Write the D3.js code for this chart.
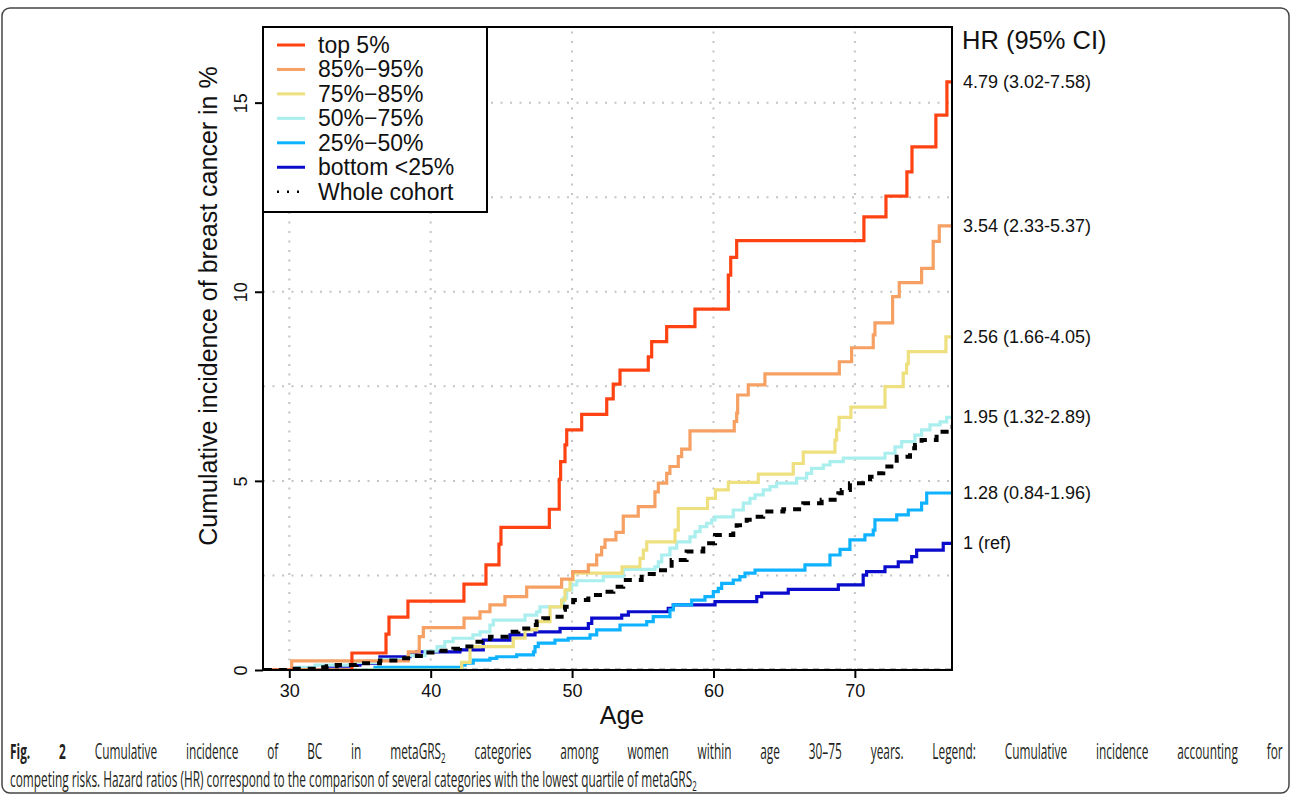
<!DOCTYPE html>
<html>
<head>
<meta charset="utf-8">
<script src="https://d3js.org/d3.v7.min.js"></script>
<style>
  body { margin: 0; background: #fff; }
  svg text { font-family: "Liberation Sans", Arial, Helvetica, sans-serif; fill: #111; }
</style>
</head>
<body>
<svg id="chart" width="1292" height="795"></svg>
<script>

// categories + HR (95% CI) as printed right of the plot
const groups = ["top 5%", "85%\u221295%", "75%\u221285%", "50%\u221275%", "25%\u221250%", "bottom <25%"];
const groupColors = ["#ff4212", "#f6a063", "#eee07e", "#aaeeee", "#0fb2ff", "#0b0bcc"];
const hrLabels = ["4.79 (3.02-7.58)", "3.54 (2.33-5.37)", "2.56 (1.66-4.05)", "1.95 (1.32-2.89)", "1.28 (0.84-1.96)", "1 (ref)"];

// cumulative incidence (%) by age
const top5Age = [28.2, 34.43, 36.84, 37.05, 38.39, 42.35, 43.91, 44.83, 44.97, 48.39, 49.09, 49.19, 49.5, 49.62, 50.68, 52.45, 52.91, 53.39, 55.39, 55.63, 56.69, 58.69, 61.05, 61.22, 61.64, 70.64, 72.2, 73.68, 74.04, 75.73, 76.51, 76.8];
const top5Inc = [0, 0.45, 0.95, 1.40, 1.82, 2.27, 2.78, 3.33, 3.77, 4.25, 5.04, 5.51, 5.95, 6.35, 6.76, 7.17, 7.56, 7.93, 8.28, 8.68, 9.08, 9.54, 10.44, 10.91, 11.35, 11.98, 12.53, 13.17, 13.83, 14.67, 15.55, 15.55];

const p85Age = [28.2, 30.17, 38.42, 39.19, 39.48, 42.36, 43.49, 44.19, 45.25, 46.79, 49.26, 50.04, 51.15, 51.74, 52.09, 52.33, 53.1, 53.62, 54.68, 55.86, 56.1, 56.69, 56.92, 57.51, 57.75, 58.34, 61.47, 61.64, 61.71, 62.46, 63.64, 68.9, 69.77, 71.3, 71.42, 72.67, 73.14, 74.72, 75.54, 75.97, 76.8];
const p85Inc = [0, 0.24, 0.48, 0.88, 1.12, 1.37, 1.54, 1.72, 1.94, 2.19, 2.40, 2.60, 2.78, 3.04, 3.24, 3.44, 3.64, 4.07, 4.32, 4.71, 4.94, 5.20, 5.38, 5.64, 5.84, 6.32, 6.57, 6.79, 7.27, 7.54, 7.83, 8.15, 8.52, 8.86, 9.18, 9.87, 10.24, 10.62, 11.33, 11.74, 11.74];

const p75Age = [28.2, 42.19, 42.78, 45.84, 46.67, 47.5, 48.44, 49.26, 49.5, 49.85, 50.08, 53.53, 54.8, 55.04, 55.28, 57.28, 57.51, 59.58, 60.14, 61.05, 63.17, 65.64, 66.35, 68.59, 68.71, 68.88, 69.72, 72.13, 73.42, 73.66, 73.78, 76.44, 76.8];
const p75Inc = [0, 0.2, 0.62, 0.84, 1.06, 1.28, 1.67, 1.85, 2.12, 2.38, 2.56, 2.73, 2.95, 3.17, 3.39, 3.7, 4.27, 4.54, 4.76, 4.96, 5.18, 5.46, 5.76, 6.08, 6.35, 6.68, 6.95, 7.49, 7.85, 8.09, 8.42, 8.81, 8.81];

const p50Age = [28.2, 30.52, 31.82, 34.5, 36.41, 38.39, 39.6, 40.45, 41.0, 41.58, 42.99, 43.49, 44.19, 44.43, 46.67, 47.5, 47.73, 49.38, 49.62, 49.97, 50.33, 52.21, 53.62, 55.86, 56.1, 56.34, 56.92, 57.4, 58.34, 58.7, 59.05, 59.52, 59.87, 60.11, 61.4, 62.11, 62.58, 62.94, 63.52, 64.0, 64.47, 65.88, 66.59, 66.94, 67.77, 68.24, 69.18, 72.13, 72.84, 73.31, 74.25, 74.72, 75.31, 76.02, 76.49, 76.8];
const p50Inc = [0, 0.07, 0.13, 0.2, 0.28, 0.38, 0.5, 0.62, 0.75, 0.84, 0.93, 1.01, 1.19, 1.32, 1.45, 1.54, 1.67, 1.9, 2.12, 2.25, 2.36, 2.47, 2.66, 2.73, 2.86, 3.04, 3.22, 3.39, 3.52, 3.66, 3.79, 3.88, 3.97, 4.05, 4.23, 4.41, 4.54, 4.63, 4.76, 4.85, 4.94, 5.07, 5.2, 5.33, 5.42, 5.51, 5.6, 5.73, 5.9, 6.04, 6.21, 6.35, 6.48, 6.56, 6.68, 6.68];

const p25Age = [28.2, 36.06, 42.19, 42.43, 43.01, 44.19, 44.67, 46.08, 47.27, 47.38, 47.61, 48.79, 49.73, 51.27, 51.74, 53.39, 55.28, 55.74, 56.92, 57.16, 58.46, 59.4, 59.99, 60.34, 60.58, 61.4, 61.87, 62.23, 62.94, 66.47, 68.24, 68.95, 69.65, 70.71, 71.3, 71.42, 72.96, 73.78, 74.72, 75.08, 76.8];
const p25Inc = [0, 0.07, 0.13, 0.18, 0.26, 0.31, 0.35, 0.4, 0.48, 0.62, 0.71, 0.79, 0.84, 0.93, 1.06, 1.19, 1.28, 1.41, 1.59, 1.72, 1.85, 1.94, 2.07, 2.16, 2.29, 2.38, 2.47, 2.56, 2.64, 2.78, 3.04, 3.19, 3.44, 3.57, 3.7, 3.97, 4.1, 4.23, 4.41, 4.68, 4.68];

const bottomAge = [28.2, 32.64, 34.29, 35.0, 36.41, 38.54, 39.01, 42.07, 43.72, 45.61, 47.38, 49.15, 51.15, 51.39, 53.51, 53.98, 56.8, 57.16, 60.11, 63.06, 63.41, 65.29, 68.83, 70.59, 70.83, 72.13, 73.07, 74.02, 74.37, 76.25, 76.8];
const bottomInc = [0, 0.1, 0.13, 0.18, 0.35, 0.4, 0.48, 0.53, 0.79, 0.93, 1.01, 1.1, 1.23, 1.37, 1.45, 1.54, 1.63, 1.72, 1.81, 1.94, 2.03, 2.13, 2.25, 2.51, 2.6, 2.73, 2.86, 3.0, 3.17, 3.35, 3.35];

const cohortAge = [28.2, 30.17, 31.94, 32.64, 33.35, 34.77, 36.41, 37.83, 38.77, 39.48, 40.54, 41.6, 42.07, 43.13, 44.19, 45.37, 46.2, 46.9, 47.5, 47.96, 48.67, 49.26, 49.5, 50.08, 51.15, 52.21, 52.92, 53.62, 54.92, 55.98, 57.04, 58.1, 59.28, 60.11, 61.4, 61.64, 62.35, 62.82, 63.52, 64.94, 66.35, 67.65, 68.83, 69.07, 69.65, 71.07, 71.42, 72.01, 72.96, 73.9, 74.25, 74.72, 75.78, 76.49, 76.8];
const cohortInc = [0, 0.03, 0.07, 0.1, 0.13, 0.18, 0.25, 0.31, 0.37, 0.46, 0.51, 0.56, 0.62, 0.75, 0.88, 1.01, 1.1, 1.19, 1.28, 1.37, 1.41, 1.59, 1.67, 1.85, 1.98, 2.07, 2.2, 2.38, 2.54, 2.64, 2.91, 3.13, 3.35, 3.57, 3.75, 3.83, 3.97, 4.05, 4.19, 4.25, 4.41, 4.5, 4.67, 4.76, 4.94, 5.11, 5.2, 5.38, 5.64, 5.86, 5.95, 6.08, 6.3, 6.43, 6.43];

const xTicks = [30, 40, 50, 60, 70];
const yTicks = [0, 5, 10, 15];
const yGrid = [2.5, 5, 7.5, 10, 12.5, 15];

const seriesAge = [top5Age, p85Age, p75Age, p50Age, p25Age, bottomAge];
const seriesInc = [top5Inc, p85Inc, p75Inc, p50Inc, p25Inc, bottomInc];

const svg = d3.select("#chart");
const plot = { left: 263, right: 952, top: 27, bottom: 670 };

const x = d3.scaleLinear().domain([28.14, 76.87]).range([plot.left, plot.right]);
const y = d3.scaleLinear().domain([0, 17]).range([plot.bottom, plot.top]);

// outer figure frame
svg.append("rect")
  .attr("x", 2).attr("y", 8).attr("width", 1287).attr("height", 785).attr("rx", 8)
  .attr("fill", "none").attr("stroke", "#444").attr("stroke-width", 1.5);

svg.append("clipPath").attr("id", "plotclip")
  .append("rect")
  .attr("x", plot.left).attr("y", plot.top)
  .attr("width", plot.right - plot.left).attr("height", plot.bottom - plot.top);

// dotted grid
const grid = svg.append("g").attr("stroke", "#c4c4c4").attr("stroke-width", 2).attr("stroke-dasharray", "2,7.5");
grid.selectAll(".vg").data(xTicks).join("line")
  .attr("x1", d => x(d)).attr("x2", d => x(d))
  .attr("y1", plot.bottom).attr("y2", plot.top);
grid.selectAll(".hg").data(yGrid).join("line")
  .attr("x1", plot.left).attr("x2", plot.right)
  .attr("y1", d => y(d)).attr("y2", d => y(d));

// curves
const line = d3.line()
  .x(d => x(d[0]))
  .y(d => y(d[1]))
  .curve(d3.curveStepAfter);

const curves = svg.append("g").attr("clip-path", "url(#plotclip)").attr("fill", "none");

// black dashed baseline along 0
curves.append("line")
  .attr("x1", plot.left).attr("x2", plot.right)
  .attr("y1", y(0)).attr("y2", y(0))
  .attr("stroke", "#000").attr("stroke-width", 2.5).attr("stroke-dasharray", "6,5");

for (let i = groups.length - 1; i >= 0; i--) {
  const pts = d3.zip(seriesAge[i], seriesInc[i]);
  curves.append("path")
    .attr("d", line(pts))
    .attr("stroke", groupColors[i])
    .attr("stroke-width", 3.2);
}

curves.append("path")
  .attr("d", line(d3.zip(cohortAge, cohortInc)))
  .attr("stroke", "#000")
  .attr("stroke-width", 4)
  .attr("stroke-dasharray", "8,7");

// axes
const xAxis = svg.append("g")
  .attr("transform", "translate(0," + plot.bottom + ")")
  .call(d3.axisBottom(x).tickValues(xTicks).tickSize(8).tickPadding(6));
xAxis.select(".domain").remove();
xAxis.selectAll("line").attr("stroke", "#000").attr("stroke-width", 2);
xAxis.selectAll("text").attr("font-size", 18).attr("fill", "#111")
  .attr("font-family", "'Liberation Sans', Arial, sans-serif");

const yAxis = svg.append("g")
  .attr("transform", "translate(" + plot.left + ",0)")
  .call(d3.axisLeft(y).tickValues(yTicks).tickSize(8));
yAxis.select(".domain").remove();
yAxis.selectAll("line").attr("stroke", "#000").attr("stroke-width", 2);
yAxis.selectAll("text")
  .attr("x", 0).attr("dy", null)
  .attr("text-anchor", "middle")
  .attr("dominant-baseline", "central")
  .attr("transform", "translate(-22,0) rotate(-90)")
  .attr("font-size", 18).attr("fill", "#111")
  .attr("font-family", "'Liberation Sans', Arial, sans-serif");

// box
svg.append("rect")
  .attr("x", plot.left).attr("y", plot.top)
  .attr("width", plot.right - plot.left).attr("height", plot.bottom - plot.top)
  .attr("fill", "none").attr("stroke", "#000").attr("stroke-width", 2);

// axis titles
svg.append("text")
  .attr("x", 622).attr("y", 715)
  .attr("text-anchor", "middle").attr("dominant-baseline", "central")
  .attr("font-size", 25)
  .text("Age");

svg.append("text")
  .attr("transform", "translate(208,306) rotate(-90)")
  .attr("text-anchor", "middle").attr("dominant-baseline", "central")
  .attr("font-size", 25)
  .text("Cumulative incidence of breast cancer in %");

// legend
const leg = svg.append("g");
leg.append("rect")
  .attr("x", plot.left).attr("y", plot.top).attr("width", 224).attr("height", 185)
  .attr("fill", "#fff").attr("stroke", "#000").attr("stroke-width", 2);

const legNames = groups.concat(["Whole cohort"]);
const legRow = d3.scaleLinear().domain([0, 1]).range([45, 69.45]);

legNames.forEach((name, i) => {
  const ly = legRow(i);
  const l = leg.append("line")
    .attr("x1", 277).attr("x2", 305)
    .attr("y1", ly).attr("y2", ly);
  if (i < groups.length) {
    l.attr("stroke", groupColors[i]).attr("stroke-width", 3);
  } else {
    l.attr("stroke", "#000").attr("stroke-width", 2.5)
      .attr("stroke-dasharray", "2,8");
  }
  leg.append("text")
    .attr("x", 318).attr("y", ly)
    .attr("dominant-baseline", "central")
    .attr("font-size", 23)
    .text(name);
});

// HR labels at the end of each curve
svg.append("text")
  .attr("x", 962).attr("y", 40)
  .attr("dominant-baseline", "central")
  .attr("font-size", 25.5)
  .text("HR (95% CI)");

svg.selectAll(".hr").data(hrLabels).join("text")
  .attr("x", 963)
  .attr("y", (d, i) => y(seriesInc[i][seriesInc[i].length - 1]))
  .attr("dominant-baseline", "central")
  .attr("font-size", 18)
  .text(d => d);

// caption, justified: same horizontal squeeze on both lines, first line widened by word spacing
const cap1 = svg.append("text")
  .attr("font-size", 21)
  .style("font-family", "'Open Sans', 'Noto Sans', sans-serif")
  .style("fill", "#231f20");
cap1.append("tspan").attr("font-weight", "bold").text("Fig. 2");
cap1.append("tspan").text(" Cumulative incidence of BC in metaGRS");
cap1.append("tspan").attr("font-size", 14).attr("dy", 4).text("2");
cap1.append("tspan").attr("dy", -4).text(" categories among women within age 30\u201375 years. Legend: Cumulative incidence accounting for");

const cap2 = svg.append("text")
  .attr("font-size", 21)
  .style("font-family", "'Open Sans', 'Noto Sans', sans-serif")
  .style("fill", "#231f20");
cap2.append("tspan").text("competing risks. Hazard ratios (HR) correspond to the comparison of several categories with the lowest quartile of metaGRS");
cap2.append("tspan").attr("font-size", 14).attr("dy", 4).text("2");

const squeeze = 687 / cap2.node().getComputedTextLength();
cap2.attr("transform", "translate(10,787) scale(" + squeeze + ",1)");

const gaps = cap1.text().split(" ").length - 1;
const extra = (1273 / squeeze - cap1.node().getComputedTextLength()) / gaps;
cap1.style("word-spacing", extra + "px");
cap1.attr("transform", "translate(10,759) scale(" + squeeze + ",1)");

</script>
</body>
</html>
